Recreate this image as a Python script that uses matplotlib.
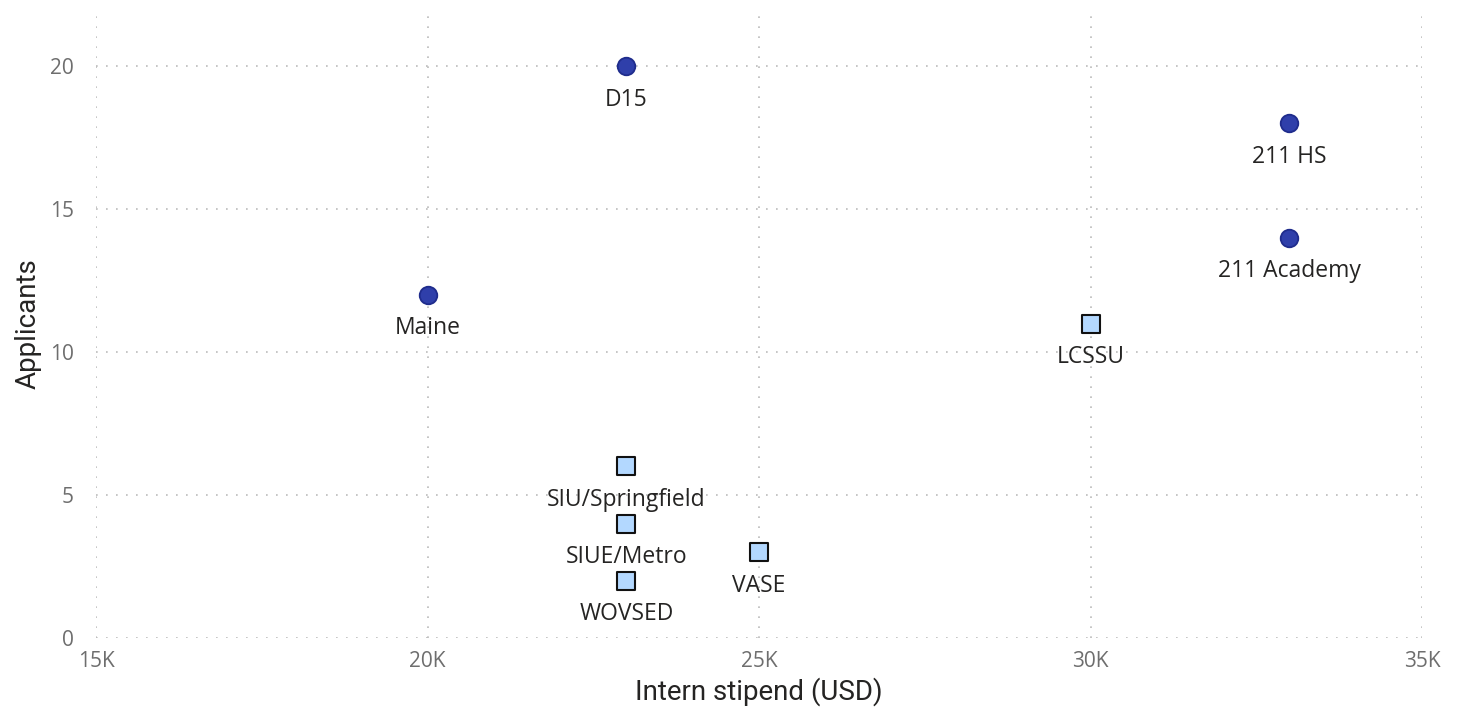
import matplotlib
matplotlib.use("Agg")
import matplotlib.pyplot as plt
from matplotlib.ticker import FuncFormatter

# Data
circle_names = ["D15", "211 HS", "211 Academy", "Maine"]
circle_stipend = [23000, 33000, 33000, 20000]
circle_applicants = [20, 18, 14, 12]

square_names = ["LCSSU", "SIU/Springfield", "SIUE/Metro", "WOVSED", "VASE"]
square_stipend = [30000, 23000, 23000, 23000, 25000]
square_applicants = [11, 6, 4, 2, 3]

x_ticks = [15000, 20000, 25000, 30000, 35000]
y_ticks = [0, 5, 10, 15, 20]

fig = plt.figure(figsize=(14.6, 7.16), dpi=100)
ax = fig.add_axes([0.0658, 0.1089, 0.974 - 0.0658, 0.9874 - 0.1089])

ax.scatter(circle_stipend, circle_applicants, s=160, marker="o",
           facecolor="#2F3FAA", edgecolor="#1F2C8C", linewidth=1.3, zorder=3)
ax.scatter(square_stipend, square_applicants, s=150, marker="s",
           facecolor="#B3D8FF", edgecolor="#111111", linewidth=1.5, zorder=3)

lab_font = dict(family=["Open Sans", "DejaVu Sans"], fontsize=16.5, color="#252423")
for n, x, y in zip(circle_names + square_names,
                   circle_stipend + square_stipend,
                   circle_applicants + square_applicants):
    ax.annotate(n, (x, y), xytext=(0, -15.5), textcoords="offset points",
                ha="center", va="top", zorder=4, **lab_font)

ax.set_xlim(15000, 35000)
ax.set_ylim(0, 22)
ax.set_xticks(x_ticks)
ax.set_yticks(y_ticks)
ax.xaxis.set_major_formatter(FuncFormatter(lambda v, p: f"{int(v/1000)}K"))

for s in ax.spines.values():
    s.set_visible(False)
ax.tick_params(length=0, labelsize=15, labelcolor="#6E6E6E")
ax.tick_params(axis="y", pad=16)
ax.tick_params(axis="x", pad=9)
for t in ax.get_xticklabels() + ax.get_yticklabels():
    t.set_family(["Open Sans", "DejaVu Sans"])
ax.grid(True, linestyle=(0, (1, 5)), color="#BBBBBB", linewidth=1.2)
ax.set_axisbelow(True)

ax.set_xlabel("Intern stipend (USD)", fontsize=20, color="#252423",
              family=["Roboto", "DejaVu Sans"], labelpad=4)
ax.set_ylabel("Applicants", fontsize=20, color="#252423",
              family=["Roboto", "DejaVu Sans"], labelpad=6)

fig.savefig("out.png", dpi=100)
